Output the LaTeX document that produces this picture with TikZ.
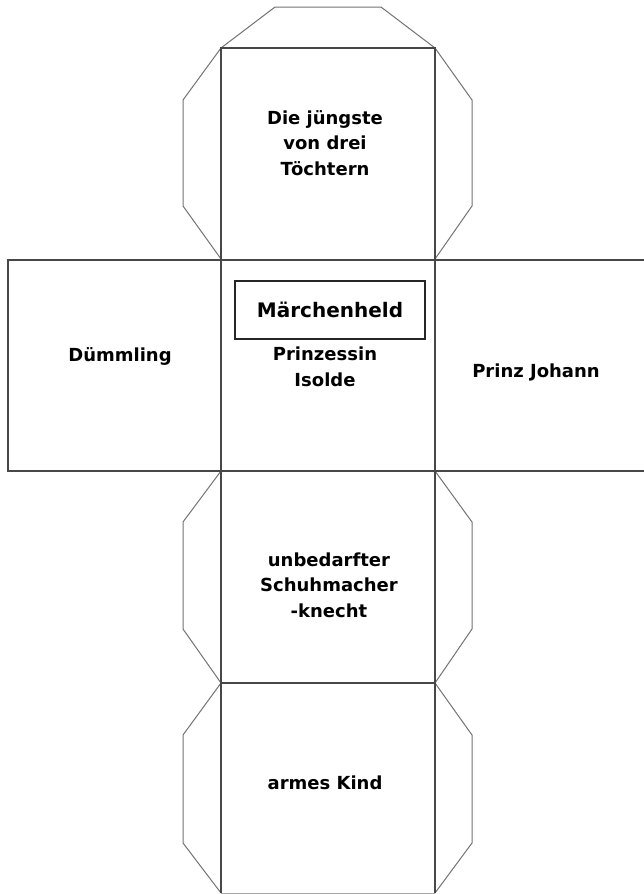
\documentclass[tikz,border=0pt]{standalone}
\usepackage{fontspec}
\newfontfamily\vfont{DejaVu Sans}
\begin{document}
\begin{tikzpicture}[x=1pt,y=-1pt,
  face/.style={draw=black!72, line width=1.4pt},
  flap/.style={draw=black!55, line width=1pt, line join=miter},
  lbl/.style={font=\vfont\bfseries\fontsize{18}{25.5}\selectfont, align=center, inner sep=0pt},
  title/.style={draw=black!85, line width=1.2pt, minimum width=190pt, minimum height=58pt, inner sep=0pt,
    font=\vfont\bfseries\fontsize{20}{23}\selectfont}]
\useasboundingbox (0,0) rectangle (643,894);
\fill[white] (0,0) rectangle (643,894);
% flaps
\draw[flap] (221,48) -- (275,7) -- (381,7) -- (435,48);
\draw[flap] (221,48) -- (183,100) -- (183,206) -- (221,259);
\draw[flap] (435,48) -- (472,100) -- (472,206) -- (435,259);
\draw[flap] (221,471) -- (183,522) -- (183,629) -- (221,683);
\draw[flap] (435,471) -- (472,522) -- (472,629) -- (435,683);
\draw[flap] (221,683) -- (183,735) -- (183,843) -- (221,893);
\draw[flap] (435,683) -- (472,735) -- (472,843) -- (435,893);
% faces
\draw[face] (221,48) rectangle (435,260);
\draw[face] (8,260) rectangle (650,471);
\draw[face] (221,260) -- (221,471);
\draw[face] (435,260) -- (435,471);
\draw[face] (221,471) rectangle (435,683);
\draw[face] (221,683) -- (221,893);
\draw[face] (435,683) -- (435,893);
\draw[draw=black!35, line width=1pt] (221,893) -- (435,893);
% labels
\node[lbl] (top) at (325,143) {Die jüngste\\von drei\\Töchtern};
\node[title] (held) at (330,310) {Märchenheld};
\node[lbl] (prinzessin) at (325,367) {Prinzessin\\Isolde};
\node[lbl] (duemmling) at (120,356) {Dümmling};
\node[lbl] (johann) at (536,372) {Prinz Johann};
\node[lbl] (knecht) at (329,585) {unbedarfter\\Schuhmacher\\-knecht};
\node[lbl] (kind) at (325,783) {armes Kind};
\end{tikzpicture}
\end{document}
